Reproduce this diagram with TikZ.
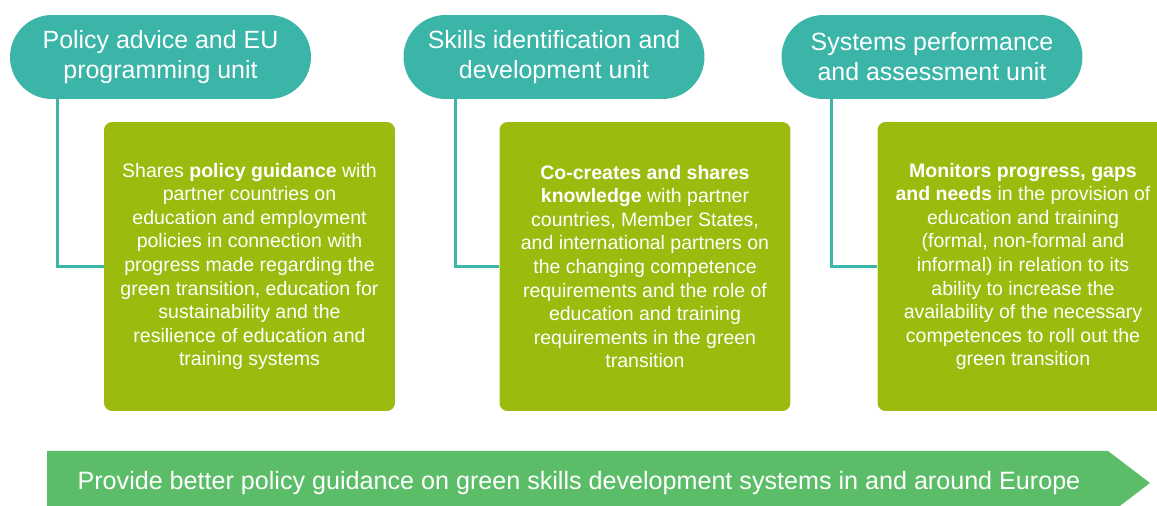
\documentclass[tikz,border=0pt]{standalone}
\usepackage{fontspec}
\setmainfont{Liberation Sans}
\definecolor{unitteal}{RGB}{59, 181, 168}
\definecolor{taskgreen}{RGB}{155, 187, 14}
\definecolor{goalgreen}{RGB}{91, 189, 104}
\usetikzlibrary{positioning, calc}

\begin{document}
\begin{tikzpicture}[
  x=0.02cm, y=-0.02cm,
  unit/.style={fill=unitteal, rounded corners=0.84cm, minimum width=6.02cm, minimum height=1.68cm, align=center, text=white, font=\fontsize{14.2}{17}\selectfont, inner sep=0pt},
  task/.style={fill=taskgreen, rounded corners=0.16cm, minimum width=5.82cm, minimum height=5.78cm, align=center, text=white, font=\fontsize{11.1}{13.4}\selectfont, inner sep=0pt},
  conn/.style={draw=unitteal, line width=1.7pt},
]
  \useasboundingbox (0,0) rectangle (1157,506);
  \clip (0,0) rectangle (1157,506);

  % unit headers
  \node[unit] (h1) at (160.5, 57) {Policy advice and EU\\programming unit};
  \node[unit] (h2) at (554, 57) {Skills identification and\\development unit};
  \node[unit] (h3) at (932, 57) {Systems performance\\and assessment unit};

  % tasks
  \node[task] (b1) at (249.5, 266.5) {Shares \textbf{policy guidance} with\\partner countries on\\education and employment\\policies in connection with\\progress made regarding the\\green transition, education for\\sustainability and the\\resilience of education and\\training systems};
  \node[task] (b2) at (645, 266.5) {\textbf{Co-creates and shares}\\\textbf{knowledge} with partner\\countries, Member States,\\and international partners on\\the changing competence\\requirements and the role of\\education and training\\requirements in the green\\transition};
  \node[task] (b3) at (1023, 266.5) {\textbf{Monitors progress, gaps}\\\textbf{and needs} in the provision of\\education and training\\(formal, non-formal and\\informal) in relation to its\\ability to increase the\\availability of the necessary\\competences to roll out the\\green transition};

  \draw[conn] ($(h1.south west)+(48,0)$) |- (b1.west);
  \draw[conn] ($(h2.south west)+(52,0)$) |- (b2.west);
  \draw[conn] ($(h3.south west)+(50,0)$) |- (b3.west);

  % overall goal
  \fill[goalgreen] (47,451) -- (1108,451) -- (1150,483) -- (1108,515) -- (47,515) -- cycle;
  \node[text=white, font=\fontsize{14.3}{16}\selectfont] (goal) at (579,483) {Provide better policy guidance on green skills development systems in and around Europe};
\end{tikzpicture}
\end{document}
